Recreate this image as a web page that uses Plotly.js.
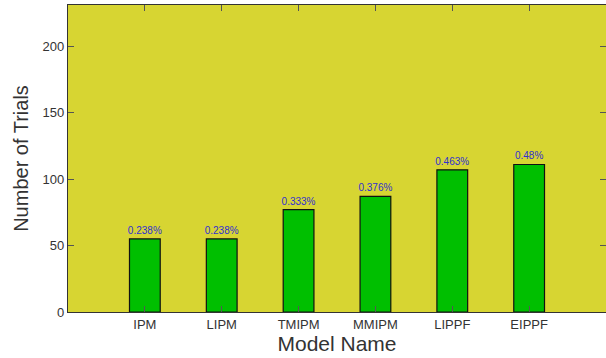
<!DOCTYPE html>
<html><head><meta charset="utf-8">
<script src="https://cdn.plot.ly/plotly-3.0.1.min.js"></script>
<style>html,body{margin:0;padding:0;background:#fff}</style>
</head><body><div id="chart" style="width:606px;height:358px"></div>
<script>
const models = ["IPM","LIPM","TMIPM","MMIPM","LIPPF","EIPPF"];
const trials = [55, 55, 77, 87, 107, 111];
const percentLabels = ["0.238%","0.238%","0.333%","0.376%","0.463%","0.48%"];

const trace = {
  type: 'bar',
  x: models,
  y: trials,
  text: percentLabels,
  textposition: 'outside',
  constraintext: 'none',
  cliponaxis: false,
  textfont: {family: 'Liberation Sans, Arial, sans-serif', size: 10, color: '#3030d0'},
  marker: {color: '#00bf00', line: {color: '#111', width: 1.2}},
  width: 0.4,
  hoverinfo: 'none'
};

const layout = {
  width: 606, height: 358,
  margin: {l: 68, r: 0, t: 5, b: 46},
  paper_bgcolor: '#ffffff',
  plot_bgcolor: '#d7d532',
  showlegend: false,
  font: {family: 'Liberation Sans, Arial, sans-serif', color: '#333'},
  xaxis: {
    type: 'category',
    range: [-1, 6],
    showline: true, linecolor: '#333', linewidth: 1.2, mirror: 'ticks',
    ticks: 'inside', ticklen: 6, tickcolor: '#555', tickwidth: 1,
    showgrid: false, zeroline: false,
    tickfont: {size: 13, color: '#333'},
    title: {text: 'Model Name', font: {size: 21, color: '#333'}, standoff: 1}
  },
  yaxis: {
    range: [0, 231],
    tickvals: [0, 50, 100, 150, 200],
    showline: true, linecolor: '#333', linewidth: 1.2, mirror: 'ticks',
    ticks: 'inside', ticklen: 6, tickcolor: '#555', tickwidth: 1,
    showgrid: false, zeroline: false,
    tickfont: {size: 13, color: '#333'},
    title: {text: 'Number of Trials', font: {size: 20, color: '#333'}, standoff: 8}
  }
};

Plotly.newPlot('chart', [trace], layout, {displayModeBar: false, staticPlot: true});
</script>
</body></html>
